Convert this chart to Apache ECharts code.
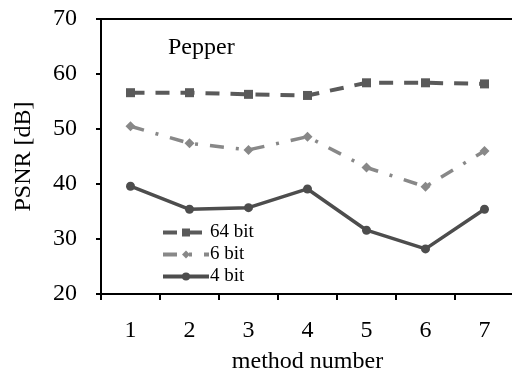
<!DOCTYPE html>
<html><head><meta charset="utf-8">
<script src="https://cdn.jsdelivr.net/npm/echarts@6/dist/echarts.min.js"></script>
<style>html,body{margin:0;padding:0;background:#fff}#c{width:512px;height:374px}</style>
</head><body><div id="c"></div>
<script>
const categories = ['1','2','3','4','5','6','7'];
const bit64 = [56.6, 56.6, 56.3, 56.1, 58.4, 58.4, 58.2];
const bit6 = [50.5, 47.4, 46.2, 48.6, 43.0, 39.5, 46.0];
const bit4 = [39.6, 35.4, 35.7, 39.1, 31.6, 28.2, 35.4];
const yTicks = [20, 30, 40, 50, 60, 70];

const font = 'Liberation Serif';
const chart = echarts.init(document.getElementById('c'), null, {renderer: 'canvas'});
chart.setOption({
  animation: false,
  backgroundColor: '#fff',
  grid: {left: 101, top: 19, right: -2, bottom: 80, outerBoundsMode: 'none', containLabel: false,
    show: true, borderColor: '#000', borderWidth: 2, backgroundColor: 'transparent'},
  title: {text: 'Pepper', left: 163, top: 31, textStyle: {fontFamily: font, fontSize: 24, fontWeight: 'normal', color: '#000'}},
  legend: {
    left: 156, top: 218, orient: 'vertical', itemWidth: 46, itemHeight: 10, itemGap: 3,
    lineStyle: {width: 4},
    textStyle: {fontFamily: font, fontSize: 19, color: '#000', padding: [0,0,0,-4]},
    data: ['64 bit', '6 bit', '4 bit']
  },
  xAxis: {
    type: 'category', data: categories, boundaryGap: true,
    name: 'method number', nameLocation: 'middle', nameGap: 56,
    nameTextStyle: {fontFamily: font, fontSize: 24, color: '#000'},
    axisLine: {lineStyle: {color: '#000', width: 2}},
    axisTick: {show: true, inside: false, length: 6, lineStyle: {color: '#000', width: 2}},
    axisLabel: {fontFamily: font, fontSize: 24, color: '#000', margin: 25},
    splitLine: {show: false}
  },
  yAxis: {
    type: 'value', min: yTicks[0], max: yTicks[yTicks.length-1], interval: 10,
    name: 'PSNR [dB]', nameLocation: 'middle', nameGap: 65, nameRotate: 90,
    nameTextStyle: {fontFamily: font, fontSize: 24, color: '#000'},
    axisLine: {show: true, lineStyle: {color: '#000', width: 2}},
    axisTick: {show: true, inside: false, length: 5, lineStyle: {color: '#000', width: 2}},
    axisLabel: {fontFamily: font, fontSize: 24, color: '#000', margin: 24},
    splitLine: {show: false}
  },
  series: [
    {name: '64 bit', type: 'line', data: bit64, symbol: 'rect', symbolSize: 9,
      itemStyle: {color: '#5a5a5a'}, lineStyle: {color: '#5a5a5a', width: 4, type: [14, 11]}},
    {name: '6 bit', type: 'line', data: bit6, symbol: 'diamond', symbolSize: 10,
      itemStyle: {color: '#888888'}, lineStyle: {color: '#888888', width: 3.5, type: [14, 12, 3, 12]}},
    {name: '4 bit', type: 'line', data: bit4, symbol: 'circle', symbolSize: 9,
      itemStyle: {color: '#4d4d4d'}, lineStyle: {color: '#4d4d4d', width: 3.5}}
  ]
});
</script></body></html>
